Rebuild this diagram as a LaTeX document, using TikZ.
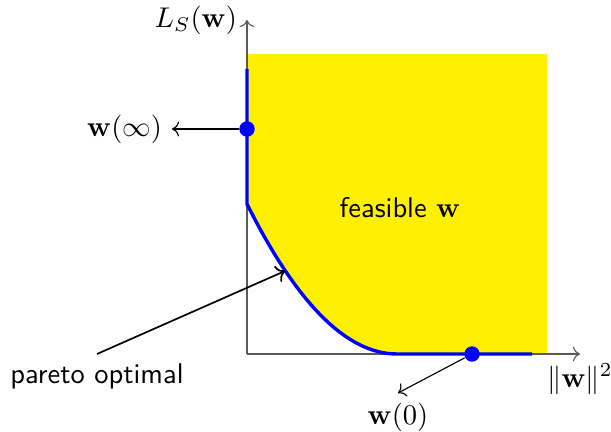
\documentclass[tikz,border=0pt]{standalone}
\usepackage{amsmath}
\usepackage{xcolor}
\usepackage{tikz}
\usetikzlibrary{arrows.meta, positioning, calc}
\definecolor{feasyellow}{RGB}{255,240,0}
\definecolor{axisgray}{RGB}{90,90,90}

\begin{document}
\begin{tikzpicture}[x=1.233cm, y=1.233cm,
    axis/.style={draw=axisgray, ->},
    dot/.style={circle, fill=blue, inner sep=0pt, minimum size=0.19cm},
    frontier/.style={draw=blue, very thick},
    pointer/.style={->},
    tag/.style={font=\sffamily},
]
\useasboundingbox (-2.47,-0.77) rectangle (3.64,3.54);

% feasible region
\fill[feasyellow] (0,1.5) .. controls (0.5,0.5) and (1,0) .. (1.5,0)
  -- (3,0) -- (3,3) -- (0,3) -- cycle;

% axes
\coordinate (origin) at (0,0);
\coordinate (xend) at (3.33,0);
\coordinate (yend) at (0,3.34);
\draw[axis] (origin) -- (xend);
\draw[axis] (origin) -- (yend);
\node[left] (ylab) at (yend) {$L_S(\mathbf{w})$};
\node[below] (xlab) at (xend) {$\|\mathbf{w}\|^2$};

% pareto frontier
\draw[frontier] (0,2.85) -- (0,1.5) .. controls (0.5,0.5) and (1,0) .. (1.5,0)
  -- (2.85,0);
\node[dot] (winf) at (0,2.25) {};
\node[dot] (wzero) at (2.25,0) {};

% labels
\node[anchor=east] (winflab) at (-0.75,2.25) {$\mathbf{w}(\infty)$};
\draw[pointer] (winf) -- (winflab);

\coordinate (wzerotip) at (1.51,-0.39);
\node[below] (wzerolab) at (wzerotip) {$\mathbf{w}(0)$};
\draw[pointer] (wzero) -- (wzerotip);

\node[tag] (feas) at (1.53,1.46) {feasible $\mathbf{w}$};

\coordinate (paretotip) at (0.38,0.83);
\node[tag, below] (pareto) at (-1.5,0) {pareto optimal};
\draw[pointer, semithick] (pareto.north) -- (paretotip);
\end{tikzpicture}
\end{document}
